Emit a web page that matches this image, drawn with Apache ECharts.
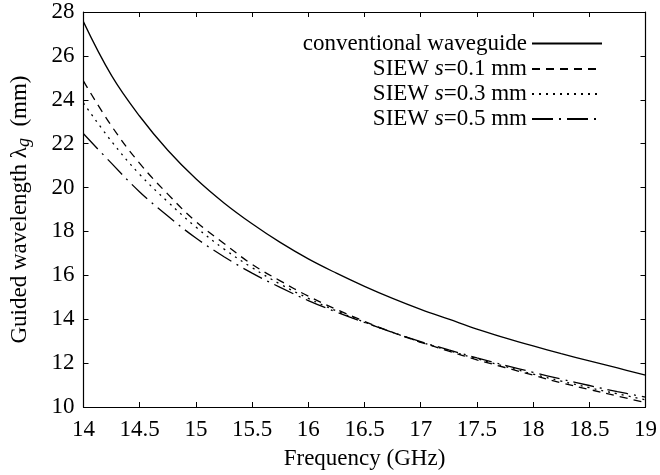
<!DOCTYPE html>
<html>
<head>
<meta charset="utf-8">
<script src="https://cdn.jsdelivr.net/npm/echarts@6/dist/echarts.min.js"></script>
<style>
html, body { margin: 0; padding: 0; background: #fff; }
#chart { width: 660px; height: 475px; }
</style>
</head>
<body>
<div id="chart"></div>
<script>
// 频率 (GHz)
var freq = [14, 14.25, 14.5, 14.75, 15, 15.25, 15.5, 15.75, 16, 16.25, 16.5,
            16.75, 17, 17.25, 17.5, 17.75, 18, 18.25, 18.5, 18.75, 19];
// conventional waveguide
var conv = [27.55, 25.1, 23.25, 21.7, 20.4, 19.3, 18.35, 17.5, 16.75, 16.1, 15.5,
            14.95, 14.45, 14.0, 13.55, 13.15, 12.78, 12.43, 12.1, 11.78, 11.45];
// SIEW s=0.1 mm
var s01 = [24.85, 22.8, 21.1, 19.7, 18.45, 17.45, 16.5, 15.75, 15.05, 14.45, 13.9,
           13.4, 12.95, 12.55, 12.15, 11.8, 11.45, 11.1, 10.8, 10.5, 10.2];
// SIEW s=0.3 mm
var s03 = [23.85, 22.1, 20.6, 19.35, 18.2, 17.2, 16.35, 15.6, 14.95, 14.38, 13.87,
           13.4, 12.96, 12.57, 12.2, 11.85, 11.5, 11.18, 10.88, 10.6, 10.33];
// SIEW s=0.5 mm
var s05 = [22.45, 21.1, 19.8, 18.7, 17.7, 16.85, 16.1, 15.45, 14.85, 14.33, 13.85,
           13.4, 12.98, 12.6, 12.24, 11.9, 11.58, 11.27, 10.98, 10.7, 10.45];

var names = ['conventional waveguide', 'SIEW s=0.1 mm', 'SIEW s=0.3 mm', 'SIEW s=0.5 mm'];
var xTicks = { min: 14, max: 19, interval: 0.5 };
var yTicks = { min: 10, max: 28, interval: 2 };

var font = "'Liberation Serif', 'Times New Roman', serif";
var fs = 23;

function pairs(vals) {
    return freq.map(function (f, i) { return [f, vals[i]]; });
}

var chart = echarts.init(document.getElementById('chart'));

function axisBase(show) {
    return {
        type: 'value',
        axisLine: { show: true, onZero: false, lineStyle: { color: '#000', width: 1.2 } },
        axisTick: { show: true, inside: true, length: 5, lineStyle: { color: '#000', width: 1 } },
        splitLine: { show: false },
        axisLabel: {
            show: show,
            color: '#000',
            fontFamily: font,
            fontSize: fs
        }
    };
}

var xBottom = axisBase(true);
Object.assign(xBottom, xTicks, {
    position: 'bottom',
    name: 'Frequency (GHz)',
    nameLocation: 'middle',
    nameGap: 40,
    nameTextStyle: { color: '#000', fontFamily: font, fontSize: fs }
});
xBottom.axisLabel.margin = 11;

var xTop = axisBase(false);
Object.assign(xTop, xTicks, { position: 'top' });

var yLeft = axisBase(true);
Object.assign(yLeft, yTicks, {
    position: 'left',
    name: 'Guided wavelength λ{g|g}  (mm)',
    nameLocation: 'middle',
    nameGap: 50,
    nameTextStyle: {
        color: '#000', fontFamily: font, fontSize: fs,
        rich: {
            g: { fontFamily: font, fontSize: 18, fontStyle: 'italic', color: '#000', padding: [10, 0, 0, 0] }
        }
    }
});
yLeft.axisLabel.margin = 9;

var yRight = axisBase(false);
Object.assign(yRight, yTicks, { position: 'right' });

// 线型
var dash = ['solid', [8, 6], [2, 5], [21, 6, 2, 6]];
var values = [conv, s01, s03, s05];

var series = values.map(function (v, i) {
    return {
        name: names[i],
        type: 'line',
        xAxisIndex: 0,
        yAxisIndex: 0,
        data: pairs(v),
        symbol: 'none',
        smooth: 0.4,
        color: '#000',
        lineStyle: { color: '#000', width: 1.3, type: dash[i] },
        silent: true
    };
});

// 图例 每行一个 右对齐
var rowCenter = [43.5, 69, 94, 119];
var legends = names.map(function (n, i) {
    return {
        data: [n],
        orient: 'vertical',
        align: 'right',
        right: 57,
        top: rowCenter[i] - 11.5,
        padding: 0,
        itemWidth: 70,
        itemHeight: 14,
        selectedMode: false,
        itemStyle: { opacity: 0 },
        formatter: function (name) {
            return name.replace('s=', '{i|s}=');
        },
        textStyle: {
            color: '#000', fontFamily: font, fontSize: fs, lineHeight: 23,
            rich: { i: { fontFamily: font, fontSize: fs, fontStyle: 'italic', color: '#000' } }
        }
    };
});

var option = {
    backgroundColor: '#fff',
    animation: false,
    grid: { left: 81, right: 13, top: 12, bottom: 67 },
    xAxis: [xBottom, xTop],
    yAxis: [yLeft, yRight],
    legend: legends,
    series: series
};

chart.setOption(option);
</script>
</body>
</html>
